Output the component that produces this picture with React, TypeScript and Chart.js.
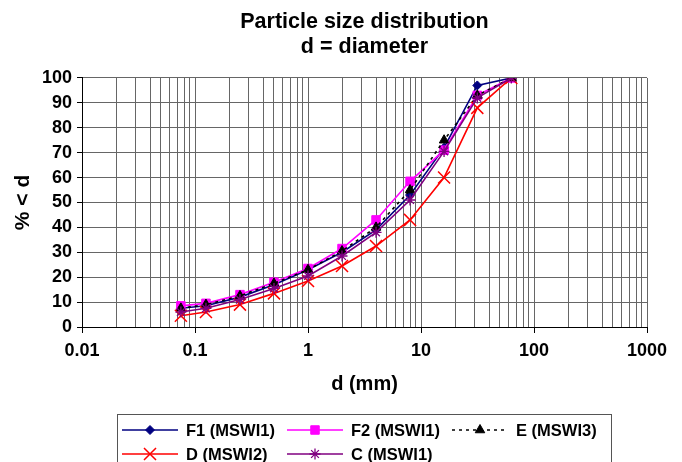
import React, { useEffect, useRef } from "react";
import { Chart, registerables } from "chart.js";

Chart.register(...registerables);

// ---- data ----
const SIZES_MM = [0.075, 0.125, 0.25, 0.5, 1, 2, 4, 8, 16, 31.5, 63];
const F1_MSWI1 = [7.5, 8.5, 12, 17, 23, 30, 39, 53, 72, 97, 100];
const F2_MSWI1 = [8.5, 9.5, 13, 18, 23.5, 31.5, 43, 58.5, 71, 93, 100];
const E_MSWI3 = [7.5, 9, 12.5, 17.5, 23, 30.5, 40, 55, 75, 93, 100];
const D_MSWI2 = [4.5, 6, 9, 13.5, 18.5, 24.5, 32.5, 43, 60, 88, 100];
const C_MSWI1 = [6, 7.5, 11, 15.5, 20.5, 28.5, 38, 51, 70.5, 92, 100];

const SERIES_LABELS = ["F1 (MSWI1)", "F2 (MSWI1)", "E (MSWI3)", "D (MSWI2)", "C (MSWI1)"];
const X_MAJOR_VALUES = [0.01, 0.1, 1, 10, 100, 1000];
const X_TICK_LABELS = ["0.01", "0.1", "1", "10", "100", "1000"];
const TITLE_LINES = ["Particle size distribution", "d = diameter"];
const X_TITLE = "d (mm)";
const Y_TITLE = "% < d";

const FONT = "'Liberation Sans', Arial, Helvetica, sans-serif";
const GRID_COLOR = "#666666";

// gridline positions for the log axis (1..9 x each decade)
const GRID_VALUES: number[] = [];
for (let d = 0; d < X_MAJOR_VALUES.length - 1; d++) {
  for (let m = 1; m <= 9; m++) GRID_VALUES.push(parseFloat((X_MAJOR_VALUES[d] * m).toPrecision(6)));
}
GRID_VALUES.push(X_MAJOR_VALUES[X_MAJOR_VALUES.length - 1]);

const majorLabel = (v: number) => {
  for (let i = 0; i < X_MAJOR_VALUES.length; i++) {
    if (Math.abs(v - X_MAJOR_VALUES[i]) < 1e-9 * X_MAJOR_VALUES[i] + 1e-12) return X_TICK_LABELS[i];
  }
  return null;
};

type SeriesStyle = {
  color: string;
  point: string;
  radius: number;
  dash: number[];
  pbw: number;
};

const STYLES: SeriesStyle[] = [
  { color: "#000080", point: "rectRot", radius: 4.5, dash: [], pbw: 1 },
  { color: "#FF00FF", point: "rect", radius: 6, dash: [], pbw: 1 },
  { color: "#000000", point: "triangle", radius: 5.5, dash: [3, 4], pbw: 1 },
  { color: "#FF0000", point: "crossRot", radius: 8.5, dash: [], pbw: 1.5 },
  { color: "#800080", point: "star", radius: 5.5, dash: [], pbw: 1.3 },
];

function drawMarker(ctx: CanvasRenderingContext2D, st: SeriesStyle, x: number, y: number) {
  const r = st.radius;
  ctx.save();
  ctx.fillStyle = st.color;
  ctx.strokeStyle = st.color;
  ctx.lineWidth = st.pbw;
  ctx.setLineDash([]);
  ctx.beginPath();
  if (st.point === "rectRot") {
    ctx.moveTo(x - r, y);
    ctx.lineTo(x, y - r);
    ctx.lineTo(x + r, y);
    ctx.lineTo(x, y + r);
    ctx.closePath();
    ctx.fill();
    ctx.stroke();
  } else if (st.point === "rect") {
    const s = r * Math.SQRT1_2;
    ctx.rect(x - s, y - s, 2 * s, 2 * s);
    ctx.fill();
    ctx.stroke();
  } else if (st.point === "triangle") {
    ctx.moveTo(x, y - r);
    ctx.lineTo(x + r * Math.cos(Math.PI / 6), y + r * 0.5);
    ctx.lineTo(x - r * Math.cos(Math.PI / 6), y + r * 0.5);
    ctx.closePath();
    ctx.fill();
    ctx.stroke();
  } else if (st.point === "crossRot") {
    const s = r * Math.SQRT1_2;
    ctx.moveTo(x - s, y - s);
    ctx.lineTo(x + s, y + s);
    ctx.moveTo(x + s, y - s);
    ctx.lineTo(x - s, y + s);
    ctx.stroke();
  } else if (st.point === "star") {
    const s = r * Math.SQRT1_2;
    ctx.moveTo(x - r, y);
    ctx.lineTo(x + r, y);
    ctx.moveTo(x, y - r);
    ctx.lineTo(x, y + r);
    ctx.moveTo(x - s, y - s);
    ctx.lineTo(x + s, y + s);
    ctx.moveTo(x + s, y - s);
    ctx.lineTo(x - s, y + s);
    ctx.stroke();
  }
  ctx.restore();
}

const LEGEND_COLS = [122, 287, 452];
const LEGEND_ROWS = [430, 454];

const excelLegendPlugin = {
  id: "excelLegend",
  afterLayout(chart: any) {
    // centre the chart title over the plot area, like the original
    const tb = chart.titleBlock;
    if (tb && chart.chartArea) {
      tb.left = chart.chartArea.left;
      tb.right = chart.chartArea.right;
    }
  },
  afterDraw(chart: any) {
    const ctx: CanvasRenderingContext2D = chart.ctx;
    ctx.save();
    ctx.strokeStyle = "#555555";
    ctx.lineWidth = 1;
    ctx.strokeRect(117.5, 414.5, 494, 60);
    ctx.font = `bold 16.5px ${FONT}`;
    ctx.textBaseline = "middle";
    ctx.textAlign = "left";
    ctx.fillStyle = "#000";
    SERIES_LABELS.forEach((label, i) => {
      const col = i % 3;
      const row = Math.floor(i / 3);
      const x0 = LEGEND_COLS[col];
      const y = LEGEND_ROWS[row];
      const st = STYLES[i];
      ctx.save();
      ctx.strokeStyle = st.color;
      ctx.lineWidth = 1.6;
      ctx.setLineDash(st.dash);
      ctx.beginPath();
      ctx.moveTo(x0, y);
      ctx.lineTo(x0 + 56, y);
      ctx.stroke();
      ctx.restore();
      drawMarker(ctx, st, x0 + 28, y);
      ctx.fillStyle = "#000";
      ctx.fillText(label, x0 + 64, y + 1);
    });
    ctx.restore();
  },
};

export default function App() {
  const canvasRef = useRef<HTMLCanvasElement | null>(null);

  useEffect(() => {
    if (!canvasRef.current) return;
    const seriesData = [F1_MSWI1, F2_MSWI1, E_MSWI3, D_MSWI2, C_MSWI1];
    const datasets = seriesData.map((vals, i) => {
      const st = STYLES[i];
      return {
        label: SERIES_LABELS[i],
        data: SIZES_MM.map((x, k) => ({ x, y: vals[k] })),
        borderColor: st.color,
        backgroundColor: st.color,
        borderWidth: 1.6,
        borderDash: st.dash,
        pointStyle: st.point,
        pointRadius: st.radius,
        pointBackgroundColor: st.color,
        pointBorderColor: st.color,
        pointBorderWidth: st.pbw,
        tension: 0,
        fill: false,
        order: 5 - i,
      };
    });

    const chart = new Chart(canvasRef.current, {
      type: "line",
      data: { datasets },
      plugins: [excelLegendPlugin],
      options: {
        animation: false,
        responsive: false,
        devicePixelRatio: 1,
        events: [],
        layout: { padding: { top: 0, left: 0, right: 35, bottom: 35 } },
        plugins: {
          legend: { display: false },
          tooltip: { enabled: false },
          title: {
            display: true,
            text: TITLE_LINES,
            color: "#000",
            font: { family: FONT, size: 21.5, weight: "bold", lineHeight: 1.12 },
            padding: { top: 10.5, bottom: 19.3 },
          },
        },
        scales: {
          x: {
            type: "logarithmic",
            min: 0.01,
            max: 1000,
            afterBuildTicks: (s: any) => {
              s.ticks = GRID_VALUES.map((v) => ({ value: v }));
            },
            afterFit: (s: any) => {
              s.height = 100;
            },
            ticks: {
              autoSkip: false,
              maxRotation: 0,
              minRotation: 0,
              padding: 7,
              color: "#000",
              font: { family: FONT, size: 18, weight: "bold" },
              callback: (v: any) => majorLabel(Number(v)) ?? "",
            },
            grid: {
              color: GRID_COLOR,
              lineWidth: 1,
              tickLength: 6,
              tickColor: (c: any) =>
                c.tick && majorLabel(c.tick.value) !== null ? "#000" : "rgba(0,0,0,0)",
            },
            border: { color: "#000", width: 1 },
            title: {
              display: true,
              text: X_TITLE,
              color: "#000",
              font: { family: FONT, size: 20, weight: "bold" },
              padding: { top: 0, bottom: 31 },
            },
          },
          y: {
            type: "linear",
            min: 0,
            max: 100,
            afterFit: (s: any) => {
              s.width = 82;
            },
            ticks: {
              stepSize: 10,
              padding: 5,
              color: "#000",
              font: { family: FONT, size: 18, weight: "bold" },
            },
            grid: { color: GRID_COLOR, lineWidth: 1, tickLength: 5, tickColor: "#000" },
            border: { color: "#000", width: 1 },
            title: {
              display: true,
              text: Y_TITLE,
              color: "#000",
              font: { family: FONT, size: 21, weight: "bold" },
              padding: { top: 11, bottom: 0 },
            },
          },
        },
      } as any,
    });
    return () => chart.destroy();
  }, []);

  return (
    <div style={{ position: "absolute", left: 0, top: 0, width: 682, height: 462, background: "#fff" }}>
      <canvas ref={canvasRef} width={682} height={462} style={{ display: "block", width: 682, height: 462 }} />
    </div>
  );
}
